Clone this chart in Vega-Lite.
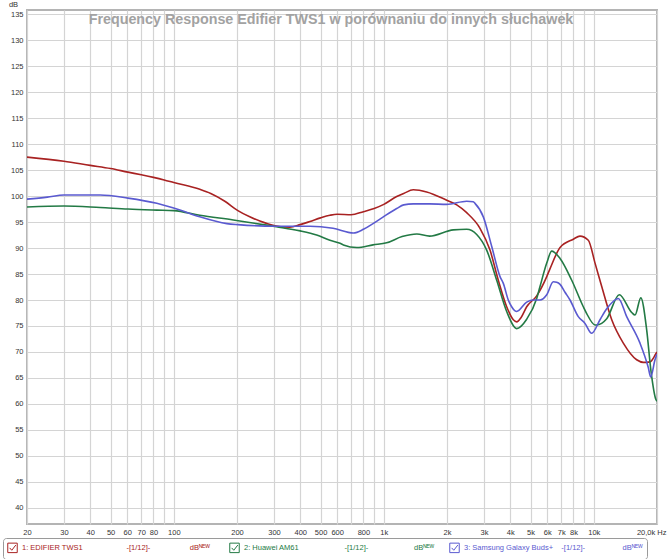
{
  "$schema": "https://vega.github.io/schema/vega-lite/v6.json",
  "autosize": {"type": "none"},
  "padding": {"left": 27, "top": 10, "right": 13, "bottom": 35},
  "width": 630,
  "height": 514,
  "background": "white",
  "config": {
    "view": {"stroke": "#b4b4b4", "strokeWidth": 2},
    "font": "Liberation Sans"
  },
  "title": {
    "text": "Frequency Response Edifier TWS1 w porównaniu do innych słuchawek",
    "font": "Liberation Sans",
    "fontSize": 14.3,
    "fontWeight": "bold",
    "color": "#a2a2a2",
    "anchor": "middle",
    "frame": "group",
    "offset": -27,
    "dx": -11
  },
  "data": {
    "values": [
      {"series": "1: EDIFIER TWS1", "hz": 20, "db": 107.5},
      {"series": "1: EDIFIER TWS1", "hz": 30, "db": 106.7},
      {"series": "1: EDIFIER TWS1", "hz": 40, "db": 105.9},
      {"series": "1: EDIFIER TWS1", "hz": 50, "db": 105.3},
      {"series": "1: EDIFIER TWS1", "hz": 60.5, "db": 104.6},
      {"series": "1: EDIFIER TWS1", "hz": 70, "db": 104.1},
      {"series": "1: EDIFIER TWS1", "hz": 80, "db": 103.6},
      {"series": "1: EDIFIER TWS1", "hz": 90, "db": 103.1},
      {"series": "1: EDIFIER TWS1", "hz": 100, "db": 102.6},
      {"series": "1: EDIFIER TWS1", "hz": 133, "db": 101.3},
      {"series": "1: EDIFIER TWS1", "hz": 150, "db": 100.5},
      {"series": "1: EDIFIER TWS1", "hz": 175, "db": 99.0},
      {"series": "1: EDIFIER TWS1", "hz": 202, "db": 97.2},
      {"series": "1: EDIFIER TWS1", "hz": 230, "db": 96.0},
      {"series": "1: EDIFIER TWS1", "hz": 257, "db": 95.2},
      {"series": "1: EDIFIER TWS1", "hz": 303, "db": 94.3},
      {"series": "1: EDIFIER TWS1", "hz": 357, "db": 94.0},
      {"series": "1: EDIFIER TWS1", "hz": 400, "db": 94.5},
      {"series": "1: EDIFIER TWS1", "hz": 445, "db": 95.1},
      {"series": "1: EDIFIER TWS1", "hz": 500, "db": 95.8},
      {"series": "1: EDIFIER TWS1", "hz": 554, "db": 96.3},
      {"series": "1: EDIFIER TWS1", "hz": 600, "db": 96.5},
      {"series": "1: EDIFIER TWS1", "hz": 700, "db": 96.4},
      {"series": "1: EDIFIER TWS1", "hz": 800, "db": 97.0},
      {"series": "1: EDIFIER TWS1", "hz": 900, "db": 97.6},
      {"series": "1: EDIFIER TWS1", "hz": 1000, "db": 98.4},
      {"series": "1: EDIFIER TWS1", "hz": 1152, "db": 99.9},
      {"series": "1: EDIFIER TWS1", "hz": 1244, "db": 100.5},
      {"series": "1: EDIFIER TWS1", "hz": 1382, "db": 101.2},
      {"series": "1: EDIFIER TWS1", "hz": 1600, "db": 100.8},
      {"series": "1: EDIFIER TWS1", "hz": 1994, "db": 99.2},
      {"series": "1: EDIFIER TWS1", "hz": 2225, "db": 98.3},
      {"series": "1: EDIFIER TWS1", "hz": 2482, "db": 96.8},
      {"series": "1: EDIFIER TWS1", "hz": 2872, "db": 93.8},
      {"series": "1: EDIFIER TWS1", "hz": 3205, "db": 89.6},
      {"series": "1: EDIFIER TWS1", "hz": 3510, "db": 83.8},
      {"series": "1: EDIFIER TWS1", "hz": 3848, "db": 78.7},
      {"series": "1: EDIFIER TWS1", "hz": 4138, "db": 76.2},
      {"series": "1: EDIFIER TWS1", "hz": 4294, "db": 75.8},
      {"series": "1: EDIFIER TWS1", "hz": 4500, "db": 76.6},
      {"series": "1: EDIFIER TWS1", "hz": 4792, "db": 78.7},
      {"series": "1: EDIFIER TWS1", "hz": 5348, "db": 80.8},
      {"series": "1: EDIFIER TWS1", "hz": 5970, "db": 84.5},
      {"series": "1: EDIFIER TWS1", "hz": 6185, "db": 86.0},
      {"series": "1: EDIFIER TWS1", "hz": 6908, "db": 90.1},
      {"series": "1: EDIFIER TWS1", "hz": 7990, "db": 91.7},
      {"series": "1: EDIFIER TWS1", "hz": 8594, "db": 92.3},
      {"series": "1: EDIFIER TWS1", "hz": 9416, "db": 91.5},
      {"series": "1: EDIFIER TWS1", "hz": 10138, "db": 87.1},
      {"series": "1: EDIFIER TWS1", "hz": 10910, "db": 82.6},
      {"series": "1: EDIFIER TWS1", "hz": 12176, "db": 76.2},
      {"series": "1: EDIFIER TWS1", "hz": 13824, "db": 71.7},
      {"series": "1: EDIFIER TWS1", "hz": 16000, "db": 68.5},
      {"series": "1: EDIFIER TWS1", "hz": 17212, "db": 68.0},
      {"series": "1: EDIFIER TWS1", "hz": 18524, "db": 68.1},
      {"series": "1: EDIFIER TWS1", "hz": 19780, "db": 69.7},
      {"series": "1: EDIFIER TWS1", "hz": 20000, "db": 70.0},

      {"series": "2: Huawei AM61", "hz": 20, "db": 97.9},
      {"series": "2: Huawei AM61", "hz": 30, "db": 98.1},
      {"series": "2: Huawei AM61", "hz": 44.6, "db": 97.8},
      {"series": "2: Huawei AM61", "hz": 60.5, "db": 97.5},
      {"series": "2: Huawei AM61", "hz": 83, "db": 97.3},
      {"series": "2: Huawei AM61", "hz": 100, "db": 97.2},
      {"series": "2: Huawei AM61", "hz": 133, "db": 96.3},
      {"series": "2: Huawei AM61", "hz": 192, "db": 95.4},
      {"series": "2: Huawei AM61", "hz": 277, "db": 94.4},
      {"series": "2: Huawei AM61", "hz": 308, "db": 94.1},
      {"series": "2: Huawei AM61", "hz": 400, "db": 93.3},
      {"series": "2: Huawei AM61", "hz": 479, "db": 92.5},
      {"series": "2: Huawei AM61", "hz": 554, "db": 91.5},
      {"series": "2: Huawei AM61", "hz": 619, "db": 90.9},
      {"series": "2: Huawei AM61", "hz": 642, "db": 90.6},
      {"series": "2: Huawei AM61", "hz": 745, "db": 90.1},
      {"series": "2: Huawei AM61", "hz": 889, "db": 90.6},
      {"series": "2: Huawei AM61", "hz": 1032, "db": 91.0},
      {"series": "2: Huawei AM61", "hz": 1222, "db": 92.2},
      {"series": "2: Huawei AM61", "hz": 1437, "db": 92.7},
      {"series": "2: Huawei AM61", "hz": 1652, "db": 92.3},
      {"series": "2: Huawei AM61", "hz": 2144, "db": 93.5},
      {"series": "2: Huawei AM61", "hz": 2482, "db": 93.6},
      {"series": "2: Huawei AM61", "hz": 2770, "db": 92.6},
      {"series": "2: Huawei AM61", "hz": 3090, "db": 89.6},
      {"series": "2: Huawei AM61", "hz": 3450, "db": 83.8},
      {"series": "2: Huawei AM61", "hz": 3848, "db": 77.8},
      {"series": "2: Huawei AM61", "hz": 4294, "db": 74.5},
      {"series": "2: Huawei AM61", "hz": 4792, "db": 76.3},
      {"series": "2: Huawei AM61", "hz": 5348, "db": 80.3},
      {"series": "2: Huawei AM61", "hz": 5546, "db": 82.6},
      {"series": "2: Huawei AM61", "hz": 5970, "db": 87.1},
      {"series": "2: Huawei AM61", "hz": 6304, "db": 89.4},
      {"series": "2: Huawei AM61", "hz": 6908, "db": 88.0},
      {"series": "2: Huawei AM61", "hz": 7852, "db": 83.8},
      {"series": "2: Huawei AM61", "hz": 8914, "db": 78.7},
      {"series": "2: Huawei AM61", "hz": 9252, "db": 77.4},
      {"series": "2: Huawei AM61", "hz": 10138, "db": 75.2},
      {"series": "2: Huawei AM61", "hz": 10326, "db": 75.2},
      {"series": "2: Huawei AM61", "hz": 11522, "db": 76.4},
      {"series": "2: Huawei AM61", "hz": 13228, "db": 81.0},
      {"series": "2: Huawei AM61", "hz": 15154, "db": 77.6},
      {"series": "2: Huawei AM61", "hz": 15712, "db": 77.1},
      {"series": "2: Huawei AM61", "hz": 16750, "db": 80.4},
      {"series": "2: Huawei AM61", "hz": 17866, "db": 74.2},
      {"series": "2: Huawei AM61", "hz": 18700, "db": 66.5},
      {"series": "2: Huawei AM61", "hz": 19780, "db": 60.8},
      {"series": "2: Huawei AM61", "hz": 20000, "db": 60.5},

      {"series": "3: Samsung Galaxy Buds+", "hz": 20, "db": 99.4},
      {"series": "3: Samsung Galaxy Buds+", "hz": 25, "db": 99.8},
      {"series": "3: Samsung Galaxy Buds+", "hz": 30, "db": 100.2},
      {"series": "3: Samsung Galaxy Buds+", "hz": 44.6, "db": 100.2},
      {"series": "3: Samsung Galaxy Buds+", "hz": 60.5, "db": 99.6},
      {"series": "3: Samsung Galaxy Buds+", "hz": 83, "db": 98.6},
      {"series": "3: Samsung Galaxy Buds+", "hz": 107, "db": 97.3},
      {"series": "3: Samsung Galaxy Buds+", "hz": 133, "db": 96.0},
      {"series": "3: Samsung Galaxy Buds+", "hz": 179, "db": 94.7},
      {"series": "3: Samsung Galaxy Buds+", "hz": 202, "db": 94.5},
      {"series": "3: Samsung Galaxy Buds+", "hz": 308, "db": 94.2},
      {"series": "3: Samsung Galaxy Buds+", "hz": 445, "db": 94.2},
      {"series": "3: Samsung Galaxy Buds+", "hz": 573, "db": 93.8},
      {"series": "3: Samsung Galaxy Buds+", "hz": 717, "db": 92.9},
      {"series": "3: Samsung Galaxy Buds+", "hz": 800, "db": 93.6},
      {"series": "3: Samsung Galaxy Buds+", "hz": 889, "db": 94.7},
      {"series": "3: Samsung Galaxy Buds+", "hz": 995, "db": 96.0},
      {"series": "3: Samsung Galaxy Buds+", "hz": 1152, "db": 97.6},
      {"series": "3: Samsung Galaxy Buds+", "hz": 1244, "db": 98.3},
      {"series": "3: Samsung Galaxy Buds+", "hz": 1382, "db": 98.5},
      {"series": "3: Samsung Galaxy Buds+", "hz": 1652, "db": 98.5},
      {"series": "3: Samsung Galaxy Buds+", "hz": 1994, "db": 98.4},
      {"series": "3: Samsung Galaxy Buds+", "hz": 2482, "db": 99.0},
      {"series": "3: Samsung Galaxy Buds+", "hz": 2668, "db": 98.9},
      {"series": "3: Samsung Galaxy Buds+", "hz": 2718, "db": 98.6},
      {"series": "3: Samsung Galaxy Buds+", "hz": 2978, "db": 96.0},
      {"series": "3: Samsung Galaxy Buds+", "hz": 3266, "db": 90.3},
      {"series": "3: Samsung Galaxy Buds+", "hz": 3577, "db": 84.5},
      {"series": "3: Samsung Galaxy Buds+", "hz": 3708, "db": 83.2},
      {"series": "3: Samsung Galaxy Buds+", "hz": 3916, "db": 80.0},
      {"series": "3: Samsung Galaxy Buds+", "hz": 4064, "db": 78.7},
      {"series": "3: Samsung Galaxy Buds+", "hz": 4216, "db": 77.9},
      {"series": "3: Samsung Galaxy Buds+", "hz": 4294, "db": 77.8},
      {"series": "3: Samsung Galaxy Buds+", "hz": 4792, "db": 79.6},
      {"series": "3: Samsung Galaxy Buds+", "hz": 5152, "db": 80.0},
      {"series": "3: Samsung Galaxy Buds+", "hz": 5546, "db": 80.0},
      {"series": "3: Samsung Galaxy Buds+", "hz": 5970, "db": 81.0},
      {"series": "3: Samsung Galaxy Buds+", "hz": 6416, "db": 83.5},
      {"series": "3: Samsung Galaxy Buds+", "hz": 6660, "db": 83.4},
      {"series": "3: Samsung Galaxy Buds+", "hz": 6908, "db": 83.0},
      {"series": "3: Samsung Galaxy Buds+", "hz": 7294, "db": 81.5},
      {"series": "3: Samsung Galaxy Buds+", "hz": 7706, "db": 80.0},
      {"series": "3: Samsung Galaxy Buds+", "hz": 8438, "db": 76.8},
      {"series": "3: Samsung Galaxy Buds+", "hz": 9082, "db": 75.5},
      {"series": "3: Samsung Galaxy Buds+", "hz": 9774, "db": 73.6},
      {"series": "3: Samsung Galaxy Buds+", "hz": 10706, "db": 76.2},
      {"series": "3: Samsung Galaxy Buds+", "hz": 11522, "db": 78.3},
      {"series": "3: Samsung Galaxy Buds+", "hz": 13084, "db": 80.3},
      {"series": "3: Samsung Galaxy Buds+", "hz": 14346, "db": 76.8},
      {"series": "3: Samsung Galaxy Buds+", "hz": 16598, "db": 71.7},
      {"series": "3: Samsung Galaxy Buds+", "hz": 18180, "db": 67.0},
      {"series": "3: Samsung Galaxy Buds+", "hz": 18662, "db": 65.2},
      {"series": "3: Samsung Galaxy Buds+", "hz": 19566, "db": 68.5},
      {"series": "3: Samsung Galaxy Buds+", "hz": 20000, "db": 69.6}
    ]
  },
  "mark": {"type": "line", "interpolate": "monotone", "strokeWidth": 1.6, "clip": true},
  "encoding": {
    "x": {
      "field": "hz",
      "type": "quantitative",
      "scale": {"type": "log", "domain": [20, 20000], "nice": false},
      "axis": {
        "title": null,
        "values": [20, 30, 40, 50, 60, 70, 80, 90, 100, 200, 300, 400, 500, 600, 700, 800, 900, 1000, 2000, 3000, 4000, 5000, 6000, 7000, 8000, 9000, 10000, 20000],
        "labelExpr": "datum.value == 20000 ? '20,0k Hz' : (indexof([90, 700, 900, 9000], datum.value) >= 0 ? '' : (datum.value >= 1000 ? (datum.value / 1000) + 'k' : '' + datum.value))",
        "labelOverlap": false,
        "labelFlush": false,
        "labelBound": false,
        "labelFont": "Liberation Sans",
        "labelFontSize": 7.5,
        "labelColor": "#333333",
        "labelPadding": 4,
        "labelAlign": {"condition": {"test": "datum.value == 20000", "value": "right"}, "value": "center"},
        "labelOffset": {"condition": {"test": "datum.value == 20000", "value": 9}, "value": 0},
        "ticks": false,
        "domain": false,
        "grid": true,
        "gridColor": "#d4d4d4",
        "gridWidth": 1.2
      }
    },
    "y": {
      "field": "db",
      "type": "quantitative",
      "scale": {"domain": [36.9, 135.8], "nice": false, "zero": false},
      "axis": {
        "title": "dB",
        "titleAngle": 0,
        "titleX": -14,
        "titleY": -2,
        "titleAlign": "center",
        "titleBaseline": "bottom",
        "titleFont": "Liberation Sans",
        "titleFontSize": 7.5,
        "titleFontWeight": "normal",
        "titleColor": "#333333",
        "values": [40, 45, 50, 55, 60, 65, 70, 75, 80, 85, 90, 95, 100, 105, 110, 115, 120, 125, 130, 135],
        "labelFont": "Liberation Sans",
        "labelFontSize": 7.5,
        "labelColor": "#333333",
        "labelPadding": 4,
        "ticks": false,
        "domain": false,
        "grid": true,
        "gridColor": "#d4d4d4",
        "gridWidth": 1.2
      }
    },
    "color": {
      "field": "series",
      "type": "nominal",
      "scale": {
        "domain": ["1: EDIFIER TWS1", "2: Huawei AM61", "3: Samsung Galaxy Buds+"],
        "range": ["#a82222", "#237a45", "#5a5ad0"]
      },
      "legend": {
        "title": null,
        "orient": "none",
        "legendX": -24,
        "legendY": 528,
        "direction": "horizontal",
        "columns": 3,
        "columnPadding": 10,
        "padding": 4,
        "strokeColor": "#9a9a9a",
        "fillColor": "white",
        "cornerRadius": 3,
        "symbolType": "M-1,-1H1V1H-1Z M-0.6,0L-0.15,0.5L0.7,-0.6",
        "symbolSize": 90,
        "symbolStrokeWidth": 1,
        "labelFont": "Liberation Sans",
        "labelFontSize": 7.5,
        "labelOffset": 4,
        "labelLimit": 400,
        "labelExpr": "datum.label == '1: EDIFIER TWS1' ? '1: EDIFIER TWS1\u00a0\u00a0\u00a0\u00a0\u00a0\u00a0\u00a0\u00a0\u00a0\u00a0\u00a0\u00a0\u00a0\u00a0\u00a0\u00a0\u00a0\u00a0\u00a0\u00a0\u00a0-[1/12]-\u00a0\u00a0\u00a0\u00a0\u00a0\u00a0\u00a0\u00a0\u00a0\u00a0\u00a0\u00a0\u00a0\u00a0\u00a0\u00a0\u00a0\u00a0\u00a0dBᴺᴱᵂ\u00a0\u00a0\u00a0\u200b' : (datum.label == '2: Huawei AM61' ? '2: Huawei AM61\u00a0\u00a0\u00a0\u00a0\u00a0\u00a0\u00a0\u00a0\u00a0\u00a0\u00a0\u00a0\u00a0\u00a0\u00a0\u00a0\u00a0\u00a0\u00a0\u00a0\u00a0\u00a0-[1/12]-\u00a0\u00a0\u00a0\u00a0\u00a0\u00a0\u00a0\u00a0\u00a0\u00a0\u00a0\u00a0\u00a0\u00a0\u00a0\u00a0\u00a0\u00a0\u00a0\u00a0\u00a0\u00a0dBᴺᴱᵂ\u00a0\u200b' : '3: Samsung Galaxy Buds+\u00a0\u00a0\u00a0\u00a0-[1/12]-\u00a0\u00a0\u00a0\u00a0\u00a0\u00a0\u00a0\u00a0\u00a0\u00a0\u00a0\u00a0\u00a0\u00a0\u00a0\u00a0\u00a0\u00a0dBᴺᴱᵂ')",
        "encode": {
          "labels": {"update": {"fill": {"scale": "color", "field": "value"}}},
          "symbols": {"update": {"stroke": {"value": "#555555"}, "fill": {"value": "transparent"}, "strokeWidth": {"value": 1}}}
        }
      }
    }
  }
}
